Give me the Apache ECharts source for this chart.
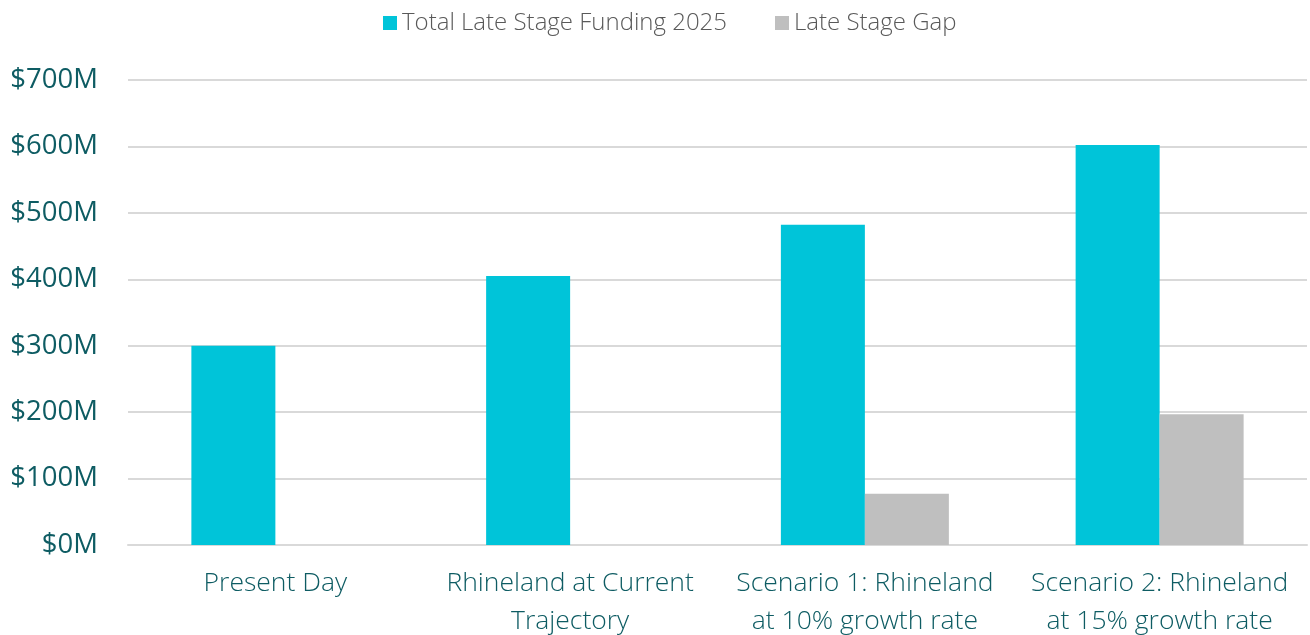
<!DOCTYPE html>
<html>
<head>
<meta charset="utf-8">
<script src="https://cdn.jsdelivr.net/npm/echarts@6/dist/echarts.min.js"></script>
<style>
  html, body { margin: 0; padding: 0; background: #fff; }
  #chart { width: 1310px; height: 635px; }
</style>
</head>
<body>
<div id="chart"></div>
<script>
  // categories (line breaks as in the reference)
  var categories = [
    'Present Day',
    'Rhineland at Current\nTrajectory',
    'Scenario 1: Rhineland\nat 10% growth rate',
    'Scenario 2: Rhineland\nat 15% growth rate'
  ];
  // values in $M
  var totalFunding = [300, 405, 482, 602];
  var stageGap = [null, null, 77, 197];

  var chart = echarts.init(document.getElementById('chart'));
  chart.setOption({
    animation: false,
    textStyle: { fontFamily: 'Open Sans' },
    legend: {
      top: 6,
      left: 378,
      itemWidth: 14,
      itemHeight: 14,
      itemGap: 48,
      icon: 'rect',
      textStyle: { fontSize: 24, color: '#595959', fontWeight: 300 }
    },
    grid: { left: 128, right: 3, top: 80, bottom: 90, outerBoundsMode: 'none' },
    xAxis: {
      type: 'category',
      data: categories,
      axisLine: { lineStyle: { color: '#D9D9D9', width: 2 } },
      axisTick: { show: false },
      axisLabel: {
        interval: 0,
        fontSize: 26.5,
        fontWeight: 300,
        color: '#0E5C63',
        lineHeight: 38,
        margin: 19
      }
    },
    yAxis: {
      type: 'value',
      min: 0,
      max: 700,
      interval: 100,
      axisLine: { show: false },
      axisTick: { show: false },
      splitLine: { lineStyle: { color: '#D9D9D9', width: 2 } },
      axisLabel: {
        formatter: '${value}M',
        fontSize: 27.5,
        color: '#0E5C63',
        margin: 30
      }
    },
    series: [
      {
        name: 'Total Late Stage Funding 2025',
        type: 'bar',
        data: totalFunding,
        barWidth: 84,
        barGap: 0,
        itemStyle: { color: '#00C4D9' }
      },
      {
        name: 'Late Stage Gap',
        type: 'bar',
        data: stageGap,
        barWidth: 84,
        barGap: 0,
        itemStyle: { color: '#BFBFBF' }
      }
    ]
  });
</script>
</body>
</html>
